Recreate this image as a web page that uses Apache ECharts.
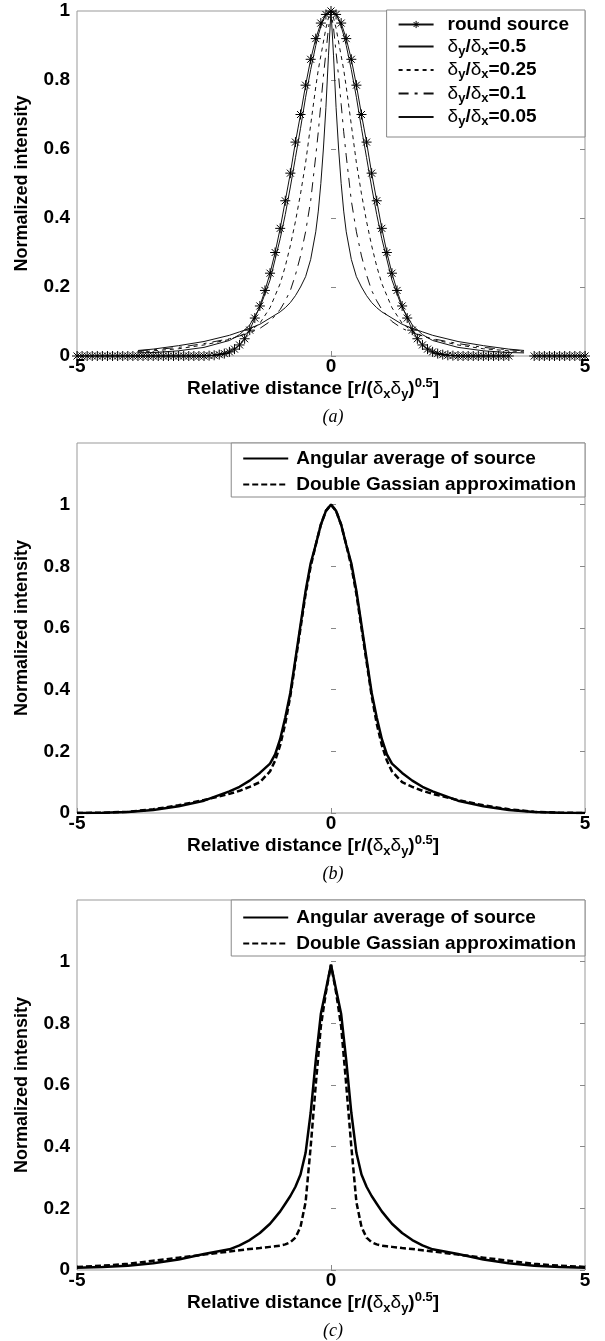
<!DOCTYPE html>
<html><head><meta charset="utf-8">
<script src="https://cdn.jsdelivr.net/npm/echarts@6/dist/echarts.min.js"></script>
<style>html,body{margin:0;padding:0;background:#fff}#c{width:605px;height:1341px}</style>
</head><body><div id="c"></div><script>
// ---------- DATA ----------
const roundX = [-5,-4.9,-4.8,-4.7,-4.6,-4.5,-4.4,-4.3,-4.2,-4.1,-4,-3.9,-3.8,-3.7,-3.6,-3.5,-3.4,-3.3,-3.2,-3.1,-3,-2.9,-2.8,-2.7,-2.6,-2.5,
 -2.4,-2.3,-2.2,-2.1,-2,-1.9,-1.8,-1.7,-1.6,-1.5,-1.4,-1.3,-1.2,-1.1,-1,-0.9,-0.8,-0.7,-0.6,-0.5,-0.4,-0.3,-0.2,-0.1,0,
 0.1,0.2,0.3,0.4,0.5,0.6,0.7,0.8,0.9,1,1.1,1.2,1.3,1.4,1.5,1.6,1.7,1.8,1.9,2,2.1,2.2,2.3,2.4,
 2.5,2.6,2.7,2.8,2.9,3,3.1,3.2,3.3,3.4,3.5,3.6,3.7,3.8,3.9,4,4.1,4.2,4.3,4.4,4.5,4.6,4.7,4.8,4.9,5];
const roundY = [0,0,0,0,0,0,0,0,0,0,0,0,0,0,0,0,0,0,0,0,0,0,0,0,0,0,
 0.001,0.002,0.004,0.007,0.012,0.02,0.032,0.05,0.075,0.11,0.145,0.19,0.24,0.30,0.37,0.45,0.53,0.62,0.70,0.785,0.86,0.92,0.965,0.99,1.0,
 0.99,0.965,0.92,0.86,0.785,0.70,0.62,0.53,0.45,0.37,0.30,0.24,0.19,0.145,0.11,0.075,0.05,0.032,0.02,0.012,0.007,0.004,0.002,0.001,
 0,0,0,0,0,0,0,0,0,0,0,null,null,null,null,0,0,0,0,0,0,0,0,0,0,0];

const ellX = [-3.8,-3.5,-3,-2.5,-2,-1.8,-1.6,-1.4,-1.2,-1,-0.9,-0.8,-0.7,-0.6,-0.5,-0.4,-0.3,-0.25,-0.2,-0.15,-0.1,-0.05,0,
 0.05,0.1,0.15,0.2,0.25,0.3,0.4,0.5,0.6,0.7,0.8,0.9,1,1.2,1.4,1.6,1.8,2,2.5,3,3.5,3.8];
const ratio05 = [0.009,0.01,0.015,0.025,0.045,0.062,0.09,0.14,0.22,0.34,0.41,0.49,0.575,0.66,0.75,0.83,0.9,0.93,0.955,0.975,0.99,0.997,1.0,
 0.997,0.99,0.975,0.955,0.93,0.9,0.83,0.75,0.66,0.575,0.49,0.41,0.34,0.22,0.14,0.09,0.062,0.045,0.025,0.015,0.01,0.009];
const ratio025 = [0.012,0.015,0.021,0.032,0.048,0.058,0.072,0.095,0.14,0.21,0.26,0.32,0.39,0.47,0.56,0.67,0.78,0.83,0.87,0.91,0.95,0.98,1.0,
 0.98,0.95,0.91,0.87,0.83,0.78,0.67,0.56,0.47,0.39,0.32,0.26,0.21,0.14,0.095,0.072,0.058,0.048,0.032,0.021,0.015,0.012];
const ratio01 = [0.015,0.018,0.025,0.036,0.05,0.058,0.067,0.08,0.1,0.135,0.16,0.19,0.235,0.29,0.36,0.45,0.58,0.65,0.73,0.81,0.88,0.95,1.0,
 0.95,0.88,0.81,0.73,0.65,0.58,0.45,0.36,0.29,0.235,0.19,0.16,0.135,0.1,0.08,0.067,0.058,0.05,0.036,0.025,0.018,0.015];
const ratio005 = [0.016,0.02,0.03,0.042,0.06,0.07,0.08,0.092,0.11,0.128,0.14,0.155,0.175,0.2,0.23,0.28,0.36,0.42,0.5,0.6,0.72,0.87,1.0,
 0.87,0.72,0.6,0.5,0.42,0.36,0.28,0.23,0.2,0.175,0.155,0.14,0.128,0.11,0.092,0.08,0.07,0.06,0.042,0.03,0.02,0.016];

const bcX = [-5,-4.5,-4,-3.5,-3,-2.5,-2,-1.8,-1.6,-1.4,-1.2,-1.1,-1,-0.9,-0.8,-0.7,-0.6,-0.5,-0.4,-0.3,-0.2,-0.1,0,
 0.1,0.2,0.3,0.4,0.5,0.6,0.7,0.8,0.9,1,1.1,1.2,1.4,1.6,1.8,2,2.5,3,3.5,4,4.5,5];
const bAngular = [0.0,0.001,0.003,0.01,0.022,0.04,0.07,0.085,0.105,0.13,0.16,0.19,0.24,0.31,0.39,0.5,0.61,0.72,0.81,0.87,0.935,0.98,1.0,
 0.98,0.935,0.87,0.81,0.72,0.61,0.5,0.39,0.31,0.24,0.19,0.16,0.13,0.105,0.085,0.07,0.04,0.022,0.01,0.003,0.001,0.0];
const bGauss = [0.0,0.001,0.004,0.012,0.025,0.042,0.062,0.072,0.085,0.1,0.135,0.17,0.22,0.29,0.38,0.49,0.6,0.71,0.8,0.87,0.935,0.98,1.0,
 0.98,0.935,0.87,0.8,0.71,0.6,0.49,0.38,0.29,0.22,0.17,0.135,0.1,0.085,0.072,0.062,0.042,0.025,0.012,0.004,0.001,0.0];
const cAngular = [0.007,0.01,0.014,0.022,0.034,0.052,0.067,0.08,0.097,0.12,0.15,0.17,0.19,0.215,0.24,0.27,0.31,0.38,0.51,0.68,0.83,0.91,0.99,
 0.91,0.83,0.68,0.51,0.38,0.31,0.27,0.24,0.215,0.19,0.17,0.15,0.12,0.097,0.08,0.067,0.052,0.034,0.022,0.014,0.01,0.007];
const cGauss = [0.01,0.014,0.02,0.03,0.04,0.05,0.06,0.064,0.068,0.071,0.075,0.077,0.079,0.083,0.09,0.105,0.14,0.22,0.4,0.6,0.79,0.9,0.99,
 0.9,0.79,0.6,0.4,0.22,0.14,0.105,0.09,0.083,0.079,0.077,0.075,0.071,0.068,0.064,0.06,0.05,0.04,0.03,0.02,0.014,0.01];

const namesA = ['round source','δy/δx=0.5','δy/δx=0.25','δy/δx=0.1','δy/δx=0.05'];
const namesBC = ['Angular average of source','Double Gassian approximation'];
const xTicks = {min:-5, max:5, interval:5};
const panelLabels = ['(a)','(b)','(c)'];

// ---------- STYLE ----------
const FONT = '"Liberation Sans", Arial, sans-serif';
function rich(lh){
  return {
    b:{fontFamily:FONT,fontWeight:'bold',fontSize:19,color:'#000',lineHeight:lh,verticalAlign:'middle'},
    d:{fontFamily:FONT,fontWeight:'normal',fontSize:19,color:'#000',lineHeight:lh,verticalAlign:'middle'},
    s:{fontFamily:FONT,fontWeight:'bold',fontSize:13,color:'#000',lineHeight:13,verticalAlign:'bottom'},
    p:{fontFamily:FONT,fontWeight:'bold',fontSize:13,color:'#000',lineHeight:13,verticalAlign:'top'}
  };
}
function legendText(name){
  const m = name.match(/^δy\/δx=(.*)$/);
  if (m) return '{d|δ}{s|y}{b|/}{d|δ}{s|x}{b|=' + m[1] + '}';
  return '{b|' + name + '}';
}
const pair = (xs, ys) => xs.map((x,i)=>[x, ys[i]===null ? '-' : ys[i]]);

const grids = [
  {left:77, right:20, top:11, height:345},
  {left:77, right:20, top:443, height:370},
  {left:77, right:20, top:900, height:370}
].map(g => Object.assign(g, {show:true, borderColor:'#999', borderWidth:1, backgroundColor:'transparent'}));

const xAxes = [0,1,2].map(i => ({
  type:'value', gridIndex:i, min:xTicks.min, max:xTicks.max, interval:xTicks.interval,
  axisLine:{show:false},
  axisTick:{inside:true, length:5, lineStyle:{color:'#888'}},
  splitLine:{show:false},
  axisLabel:{margin:1, fontFamily:FONT, fontWeight:'bold', fontSize:19, color:'#000'},
  name:'{b|Relative distance [r/(}{d|δ}{s|x}{d|δ}{s|y}{b|)}{p|0.5}{b|]}',
  nameLocation:'middle', nameGap:20,
  nameTextStyle:{rich:rich(24), padding:[0,36,0,0]}
}));

const yAxes = [];
[1, 1.2, 1.2].forEach((mx, i) => {
  yAxes.push({
    type:'value', gridIndex:i, min:0, max:mx, interval:0.2, position:'left',
    axisLine:{show:false},
    axisTick:{inside:true, length:5, lineStyle:{color:'#888'}},
    splitLine:{show:false},
    axisLabel:{margin:7, fontFamily:FONT, fontWeight:'bold', fontSize:19, color:'#000',
      formatter: v => v > 1.01 ? '' : String(v)},
    name:'Normalized intensity', nameLocation:'middle', nameGap:46,
    nameTextStyle:{fontFamily:FONT, fontWeight:'bold', fontSize:18, color:'#000'}
  });
  yAxes.push({
    type:'value', gridIndex:i, min:0, max:mx, interval:0.2, position:'right',
    axisLine:{show:false},
    axisTick:{inside:true, length:5, lineStyle:{color:'#888'}},
    splitLine:{show:false}, axisLabel:{show:false}
  });
});

const ASTER = 'path://M5,0L5,10M0,5L10,5M1.5,1.5L8.5,8.5M1.5,8.5L8.5,1.5';
const NOFILL = {color:'transparent', borderColor:'transparent', borderWidth:0};
const thin = (name, ys, type) => ({
  type:'line', name, xAxisIndex:0, yAxisIndex:0, data:pair(ellX, ys),
  symbol:'none', itemStyle:NOFILL, lineStyle:{color:'#111', width:1, type}, silent:true
});
const series = [
  thin(namesA[1], ratio05, 'solid'),
  thin(namesA[2], ratio025, [4,4]),
  thin(namesA[3], ratio01, [10,6,3,6]),
  thin(namesA[4], ratio005, 'solid'),
  {type:'line', name:namesA[0], xAxisIndex:0, yAxisIndex:0, data:pair(roundX, roundY),
   symbol:ASTER, symbolSize:10, connectNulls:false, z:5,
   itemStyle:{color:'transparent', borderColor:'#000', borderWidth:1},
   lineStyle:{color:'#111', width:1}, silent:true},
];
[[bAngular,bGauss],[cAngular,cGauss]].forEach((pr, k) => {
  series.push({type:'line', name:namesBC[0], xAxisIndex:k+1, yAxisIndex:2*(k+1), data:pair(bcX, pr[0]),
    symbol:'none', itemStyle:NOFILL, lineStyle:{color:'#000', width:2.5, type:'solid'}, silent:true});
  series.push({type:'line', name:namesBC[1], xAxisIndex:k+1, yAxisIndex:2*(k+1), data:pair(bcX, pr[1]),
    symbol:'none', itemStyle:NOFILL, lineStyle:{color:'#000', width:2.5, type:[6,3]}, silent:true});
});

const legendCommon = {
  orient:'vertical', right:20, backgroundColor:'#fff', borderColor:'#888', borderWidth:1, borderRadius:0,
  itemHeight:9, selectedMode:false, formatter:legendText
};
const legends = [
  Object.assign({}, legendCommon, {top:10, padding:[5,16,9,11], itemGap:3, itemWidth:35,
    data:namesA.map((n,i)=> i===0 ? {name:n, itemStyle:{color:'transparent', borderColor:'#000', borderWidth:1}} : n),
    textStyle:{rich:rich(22), padding:[0,0,0,9]}}),
  Object.assign({}, legendCommon, {top:443, data:namesBC, padding:[6,9,3,11], itemGap:7, itemWidth:45,
    textStyle:{rich:rich(20), padding:[0,0,0,3]}}),
  Object.assign({}, legendCommon, {top:900, data:namesBC, padding:[8,9,3,11], itemGap:7, itemWidth:45,
    textStyle:{rich:rich(20), padding:[0,0,0,3]}})
];

const labelY = [417, 874, 1331];
const graphics = panelLabels.map((t,i) => ({
  type:'text', x:333, y:labelY[i], silent:true,
  style:{text:t, font:'italic 18px "Liberation Serif", "Times New Roman", serif', fill:'#000',
    align:'center', verticalAlign:'middle', textAlign:'center', textVerticalAlign:'middle'}
}));

const chart = echarts.init(document.getElementById('c'), null, {renderer:'canvas'});
chart.setOption({
  animation:false,
  backgroundColor:'#fff',
  grid:grids, xAxis:xAxes, yAxis:yAxes, series, legend:legends, graphic:graphics
});
</script></body></html>
